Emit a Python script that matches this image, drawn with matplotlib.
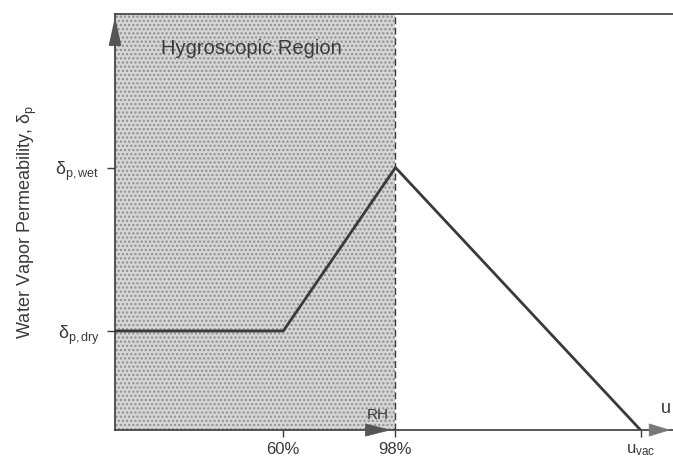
import matplotlib
matplotlib.use("Agg")
import matplotlib.pyplot as plt

# Schematic permeability curve (x: RH/moisture position, y: permeability level)
curve_x = [0.03, 0.60, 0.98, 1.81]
curve_y = [1.00, 1.00, 2.65, 0.00]
x_ticks = [0.60, 0.98, 1.81]
x_labels = ["60%", "98%", r"u$_{\mathregular{vac}}$"]
y_ticks = [1.00, 2.65]
y_labels = [r"$\delta_{\mathregular{p,dry}}$", r"$\delta_{\mathregular{p,wet}}$"]
hygro_end = 0.98

INK = "#3a3a3a"
plt.rcParams.update({"font.family": ["Liberation Sans", "DejaVu Sans"], "font.size": 11,
                     "mathtext.fontset": "custom", "mathtext.rm": "Liberation Sans",
                     "mathtext.it": "Liberation Sans", "hatch.linewidth": 1.1,
                     "hatch.color": "#8a8a8a"})

fig = plt.figure(figsize=(6.73, 4.70), dpi=100)
ax = fig.add_axes([115 / 673, 40 / 470, 558 / 673, 416 / 470])
ax.set_xlim(0.03, 1.92)
ax.set_ylim(0, 4.2)

ax.axvspan(0.03, hygro_end, facecolor="#d6d6d6", edgecolor="#909090", hatch="....", lw=0, zorder=0)
ax.axvline(hygro_end, color=INK, lw=1.0, ls=(0, (5, 2.5)), zorder=2)
ax.plot(curve_x, curve_y, color=INK, lw=2.0, zorder=3)

ax.text(0.185, 3.85, "Hygroscopic Region", fontsize=14.5, color=INK, va="center")

ax.spines["right"].set_visible(False)
for side in ["left", "bottom", "top"]:
    ax.spines[side].set_color(INK)
    ax.spines[side].set_linewidth(1.2)

ax.set_xticks(x_ticks, x_labels, color=INK, fontsize=12)
ax.set_yticks(y_ticks, y_labels, color=INK, fontsize=13)
ax.tick_params(axis="x", length=5, width=1, color=INK, pad=4)
ax.tick_params(axis="y", length=6, width=1, color=INK, pad=5)
ax.set_ylabel(r"Water Vapor Permeability, $\delta_{\mathregular{p}}$", color=INK, fontsize=13, labelpad=12)

# arrows: vertical axis, RH and u
ax.annotate("", xy=(0.03, 4.2), xytext=(0.03, 3.8), annotation_clip=False,
            arrowprops=dict(arrowstyle="-|>,head_length=1.6,head_width=0.35", color="#555", lw=1.2))
ax.annotate("", xy=(0.975, 0), xytext=(0.86, 0), annotation_clip=False,
            arrowprops=dict(arrowstyle="-|>,head_length=1.6,head_width=0.4", color="#555", lw=0.5))
ax.text(0.92, 0.08, "RH", color=INK, ha="center", va="bottom", fontsize=11)
ax.annotate("", xy=(1.92, 0), xytext=(1.86, 0), annotation_clip=False,
            arrowprops=dict(arrowstyle="-|>,head_length=1.3,head_width=0.4", color="#777", lw=0.5))
ax.text(1.895, 0.13, "u", color=INK, ha="center", va="bottom", fontsize=13)

fig.savefig("out.png", dpi=100)
